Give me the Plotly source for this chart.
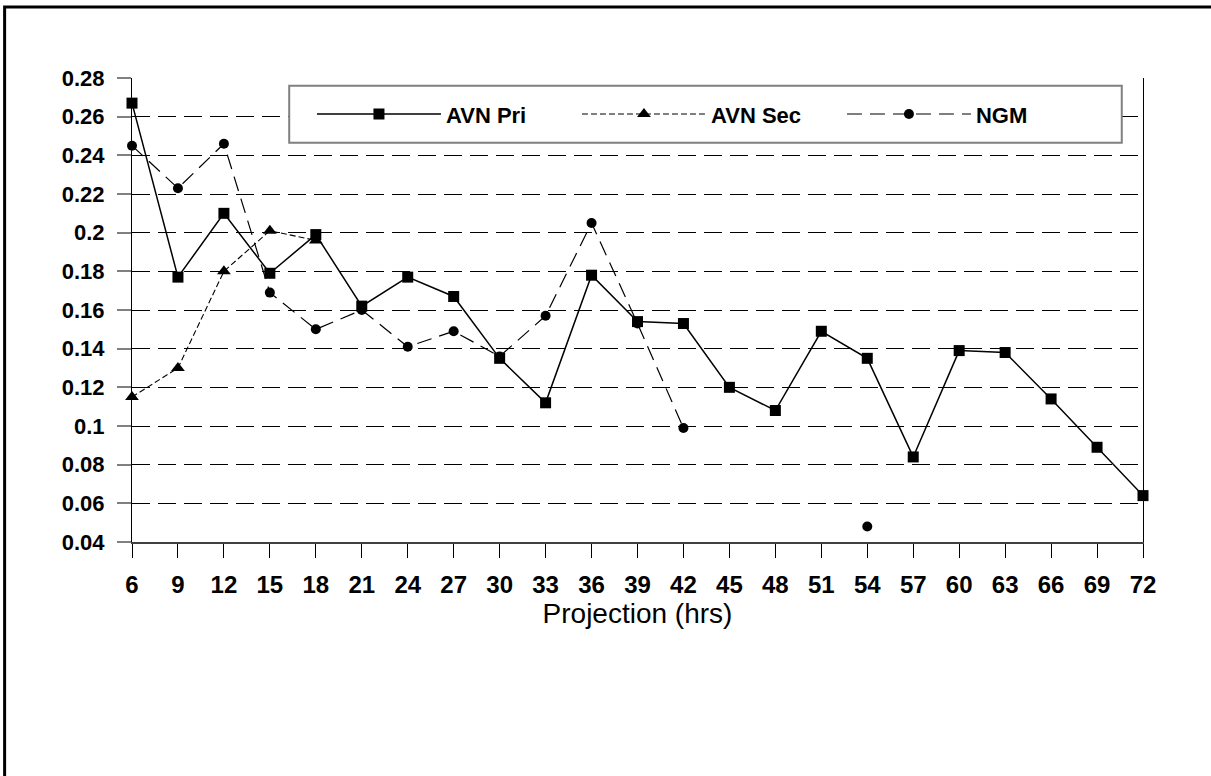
import plotly.graph_objects as go

hours = [6, 9, 12, 15, 18, 21, 24, 27, 30, 33, 36, 39, 42, 45, 48, 51, 54, 57, 60, 63, 66, 69, 72]
x_labels = [str(h) for h in hours]

avn_pri = [0.267, 0.177, 0.210, 0.179, 0.199, 0.162, 0.177, 0.167, 0.135, 0.112, 0.178, 0.154,
           0.153, 0.120, 0.108, 0.149, 0.135, 0.084, 0.139, 0.138, 0.114, 0.089, 0.064]
avn_sec = [0.115, 0.130, 0.180, 0.201, 0.196, None, None, None, None, None, None, None,
           None, None, None, None, None, None, None, None, None, None, None]
ngm = [0.245, 0.223, 0.246, 0.169, 0.150, 0.160, 0.141, 0.149, 0.136, 0.157, 0.205, 0.153,
       0.099, None, None, None, 0.048, None, None, None, None, None, None]

y_ticks = [0.04, 0.06, 0.08, 0.10, 0.12, 0.14, 0.16, 0.18, 0.20, 0.22, 0.24, 0.26, 0.28]
y_labels = ["0.04", "0.06", "0.08", "0.1", "0.12", "0.14", "0.16", "0.18", "0.2", "0.22", "0.24", "0.26", "0.28"]

FONT = "Liberation Sans, Arial, sans-serif"

fig = go.Figure()
fig.add_trace(go.Scatter(
    x=hours, y=avn_pri, name="AVN Pri", mode="lines+markers",
    line=dict(color="black", width=1.5),
    marker=dict(symbol="square", size=11, color="black"),
    cliponaxis=False,
))
fig.add_trace(go.Scatter(
    x=hours, y=avn_sec, name="AVN Sec", mode="lines+markers",
    line=dict(color="black", width=1.1, dash="6px,3px"),
    marker=dict(symbol="triangle-up", size=12, color="black"),
    cliponaxis=False,
))
fig.add_trace(go.Scatter(
    x=hours, y=ngm, name="NGM", mode="lines+markers",
    line=dict(color="black", width=1.2, dash="15px,8px"),
    marker=dict(symbol="circle", size=10, color="black"),
    cliponaxis=False,
))

fig.update_layout(
    width=1211, height=776,
    margin=dict(l=132, r=68, t=78, b=234, pad=0),
    paper_bgcolor="white", plot_bgcolor="white",
    font=dict(family=FONT, color="black"),
    showlegend=True,
    legend=dict(
        orientation="h", x=0.178, xanchor="left", y=0.922, yanchor="middle",
        bgcolor="rgba(0,0,0,0)", borderwidth=0,
        font=dict(size=22, family=FONT, weight="bold"),
        entrywidth=126, entrywidthmode="pixels", itemwidth=124,
        itemsizing="trace",
    ),
    shapes=[
        dict(type="rect", xref="paper", yref="paper", x0=0.1555, x1=0.979, y0=0.8604, y1=0.9834,
             line=dict(color="#808080", width=2), fillcolor="white", layer="above"),
        dict(type="rect", xref="paper", yref="paper", x0=-0.126, x1=1.08, y0=-0.53, y1=1.1528,
             line=dict(color="black", width=3), fillcolor="rgba(0,0,0,0)", layer="above"),
    ],
)

fig.update_xaxes(
    range=[6, 72], tickmode="array", tickvals=hours, ticktext=x_labels,
    showgrid=False, zeroline=False,
    showline=True, linecolor="#404040", linewidth=1.5,
    ticks="outside", ticklen=14, tickcolor="black", tickwidth=1,
    tickfont=dict(size=24, family=FONT, weight="bold"),
    ticklabelstandoff=6,
    title=dict(text="Projection (hrs)", font=dict(size=28, family=FONT), standoff=4),
    automargin=False,
)
fig.update_yaxes(
    range=[0.04, 0.28], tickmode="array", tickvals=y_ticks, ticktext=y_labels,
    showgrid=True, gridcolor="black", gridwidth=1, griddash="18px,8px",
    zeroline=False,
    showline=True, linecolor="black", linewidth=1, mirror=True,
    ticks="outside", ticklen=14, tickcolor="#808080", tickwidth=1.5,
    tickfont=dict(size=22, family=FONT, weight="bold"),
    ticklabelstandoff=8,
    automargin=False,
)

fig.write_html("out.html", config={"displayModeBar": False},
               post_script="document.body.style.margin='0';")
